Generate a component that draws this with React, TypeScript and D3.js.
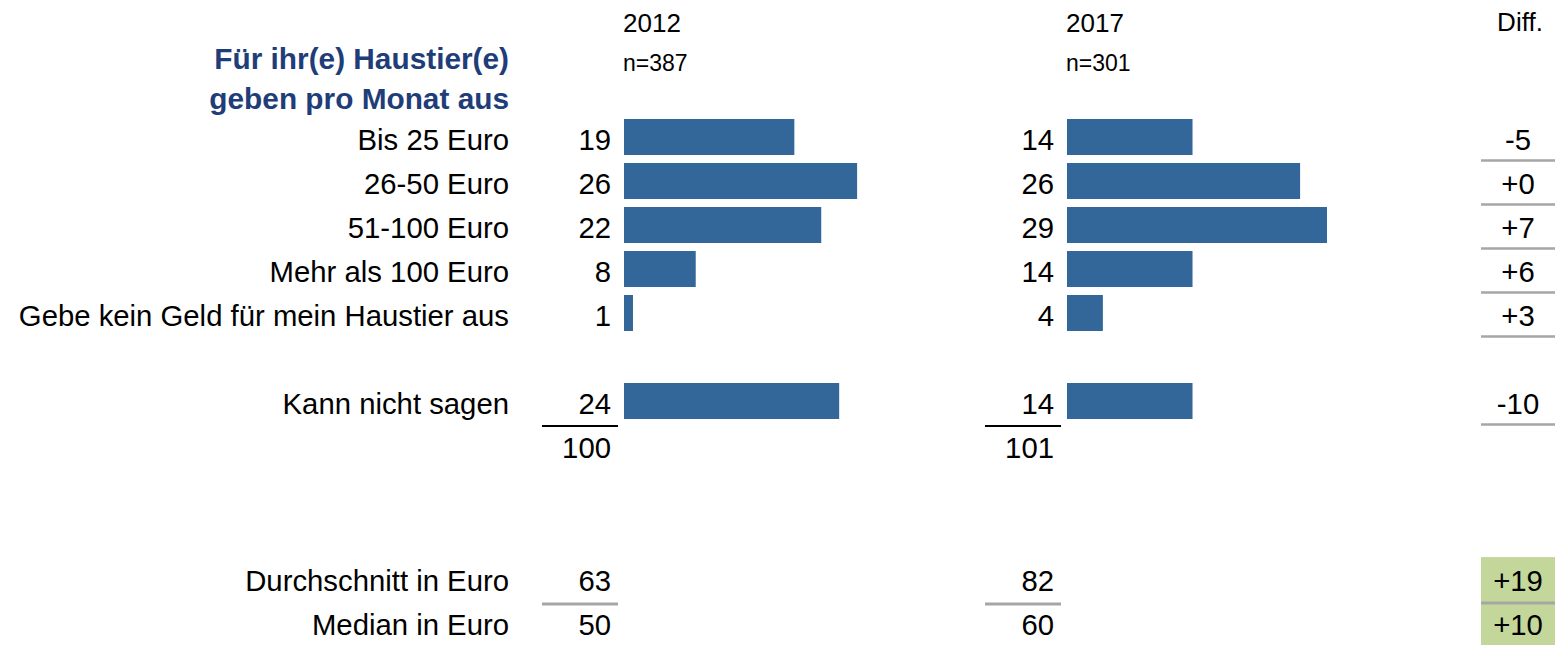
import React from "react";
import * as d3 from "d3";

const categories = [
  "Bis 25 Euro",
  "26-50 Euro",
  "51-100 Euro",
  "Mehr als 100 Euro",
  "Gebe kein Geld für mein Haustier aus",
  "Kann nicht sagen",
];
const rowSlots = [0, 1, 2, 3, 4, 6];
const values2012 = [19, 26, 22, 8, 1, 24];
const values2017 = [14, 26, 29, 14, 4, 14];
const diffs = ["-5", "+0", "+7", "+6", "+3", "-10"];
const years = ["2012", "2017"];
const sampleSizes = ["n=387", "n=301"];
const totals = [100, 101];
const statLabels = ["Durchschnitt in Euro", "Median in Euro"];
const stats2012 = [63, 50];
const stats2017 = [82, 60];
const statDiffs = ["+19", "+10"];

const W = 1555;
const H = 645;
const FONT = "'Liberation Sans', Arial, sans-serif";
const BLUE = "#336699";
const TITLE = "#1f3d78";
const GREEN = "#c4d79b";
const GRAY = "#a6a6a6";

export default function App() {
  const x = d3.scaleLinear().domain([0, 29]).range([0, 260]);
  const y = d3.scaleLinear().domain([0, 1]).range([137, 181]);
  const barH = 36;
  const fs = 29.3;
  const labelX = 509;
  const cols = [
    { start: 624, vals: values2012, stats: stats2012 },
    { start: 1067, vals: values2017, stats: stats2017 },
  ];
  const diffX0 = 1481;
  const diffX1 = 1555;
  const diffC = (diffX0 + diffX1) / 2;
  const base = 13;
  const totalSlot = 7;
  const statSlots = [10.07, 11.07];

  return (
    <svg
      width={W}
      height={H}
      style={{ position: "absolute", left: 0, top: 0, background: "#fff" }}
      fontFamily={FONT}
    >
      {/* headers */}
      {cols.map((c, i) => (
        <g key={"h" + i}>
          <text x={c.start - 1} y={32} fontSize={26}>{years[i]}</text>
          <text x={c.start - 1} y={71} fontSize={23}>{sampleSizes[i]}</text>
        </g>
      ))}
      <text x={diffC + 2} y={31} fontSize={26} textAnchor="middle">Diff.</text>

      {/* title */}
      <text x={labelX} y={69} fontSize={29.8} fontWeight="bold" fill={TITLE} textAnchor="end">
        Für ihr(e) Haustier(e)
      </text>
      <text x={labelX} y={109} fontSize={29.8} fontWeight="bold" fill={TITLE} textAnchor="end">
        geben pro Monat aus
      </text>

      {/* rows */}
      {categories.map((cat, i) => {
        const cy = y(rowSlots[i]);
        return (
          <g key={cat}>
            <text x={labelX} y={cy + base} fontSize={fs} textAnchor="end">{cat}</text>
            {cols.map((c, j) => (
              <g key={j}>
                <text x={c.start - 13} y={cy + base} fontSize={fs} textAnchor="end">
                  {c.vals[i]}
                </text>
                <rect x={c.start} y={cy - barH / 2} width={x(c.vals[i])} height={barH} fill={BLUE} />
              </g>
            ))}
            <text x={diffC} y={cy + base} fontSize={fs} textAnchor="middle">{diffs[i]}</text>
            <line x1={diffX0} x2={diffX1} y1={cy + 23.5} y2={cy + 23.5} stroke={GRAY} strokeWidth={2.5} />
          </g>
        );
      })}

      {/* totals */}
      {cols.map((c, j) => (
        <g key={"t" + j}>
          <line
            x1={c.start - 82}
            x2={c.start - 6}
            y1={y(6) + 25}
            y2={y(6) + 25}
            stroke="#000"
            strokeWidth={2}
          />
          <text x={c.start - 13} y={y(totalSlot) + base} fontSize={fs} textAnchor="end">
            {totals[j]}
          </text>
        </g>
      ))}

      {/* stats */}
      <rect x={diffX0} y={y(statSlots[0]) - 23} width={diffX1 - diffX0} height={88} fill={GREEN} />
      {statLabels.map((s, i) => {
        const cy = y(statSlots[i]);
        return (
          <g key={s}>
            <text x={labelX} y={cy + 11} fontSize={fs} textAnchor="end">{s}</text>
            {cols.map((c, j) => (
              <text key={j} x={c.start - 13} y={cy + 11} fontSize={fs} textAnchor="end">
                {c.stats[i]}
              </text>
            ))}
            <text x={diffC} y={cy + 11} fontSize={fs} textAnchor="middle">{statDiffs[i]}</text>
          </g>
        );
      })}
      {cols.map((c, j) => (
        <line
          key={"sl" + j}
          x1={c.start - 82}
          x2={c.start - 6}
          y1={y(statSlots[0]) + 24}
          y2={y(statSlots[0]) + 24}
          stroke={GRAY}
          strokeWidth={3}
        />
      ))}
      <line
        x1={diffX0}
        x2={diffX1}
        y1={y(statSlots[0]) + 23}
        y2={y(statSlots[0]) + 23}
        stroke={GRAY}
        strokeWidth={3}
      />
    </svg>
  );
}
